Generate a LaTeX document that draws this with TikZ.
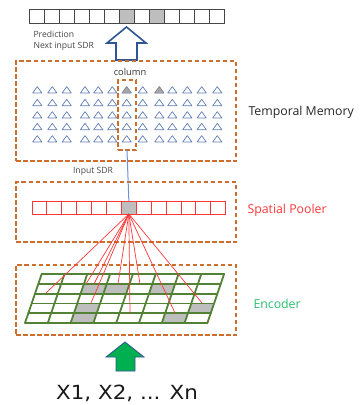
\documentclass[tikz,border=0pt]{standalone}
\usepackage{fontspec}
\setmainfont{Open Sans}
\newfontfamily\bigsans[FakeStretch=1.1]{DejaVu Sans}
\definecolor{stageorange}{RGB}{204,110,45}
\definecolor{cellgray}{RGB}{190,190,190}
\definecolor{cellline}{RGB}{70,70,70}
\definecolor{tri}{RGB}{95,125,185}
\definecolor{spred}{RGB}{255,55,55}
\definecolor{encgreen}{RGB}{84,130,53}
\definecolor{enctext}{RGB}{40,190,110}
\definecolor{wireblue}{RGB}{110,145,215}
\definecolor{arrowblue}{RGB}{47,85,151}
\definecolor{arrowgreen}{RGB}{0,176,80}
\definecolor{labelgray}{RGB}{70,70,70}
\tikzset{
  stagebox/.style={draw=stageorange, line width=1.6pt, dash pattern=on 4.5pt off 2.5pt,
    inner sep=0pt, outer sep=0pt},
  sdrcell/.style={draw=cellline, line width=1pt, minimum width=15pt, minimum height=14pt,
    inner sep=0pt, outer sep=0pt},
  spcell/.style={draw=spred, line width=0.9pt, minimum width=14.9pt, minimum height=13pt,
    inner sep=0pt, outer sep=0pt},
  tricell/.style={draw=tri, line width=0.7pt, line join=round},
  smalltext/.style={font=\fontsize{8.6}{10.5}\selectfont, text=labelgray},
  stagetext/.style={font=\fontsize{12.3}{14}\selectfont, anchor=west},
  redwire/.style={draw=spred, line width=0.7pt},
  gridline/.style={draw=encgreen, line width=1.8pt, line cap=round, line join=round},
}
% encoder grid point (column, row) in picture units
\newcommand{\gpt}[2]{({41.7+22.8*(#1)-3.34*(#2)},{274+9.8*(#2)})}
\begin{document}
\begin{tikzpicture}[x=1pt,y=-1pt]
\useasboundingbox (0,0) rectangle (360,405);

% output SDR row
\foreach \k/\cfill in {0/white,1/white,2/white,3/white,4/white,5/white,6/cellgray,
                       7/white,8/cellgray,9/white,10/white,11/white,12/white}
  \node[sdrcell, fill=\cfill] (out\k) at ({29+15*\k+7.5},16) {};

% hollow prediction arrow
\draw[arrowblue, line width=1.6pt, fill=white, line join=miter]
  (116,60) -- (116,43) -- (107,43) -- (126.5,27) -- (146,43) -- (137,43) -- (137,60) -- cycle;
\node[smalltext, anchor=west, align=left] (pred) at (30,41) {Prediction\\Next input SDR};

% temporal memory
\node[stagebox, minimum width=220pt, minimum height=100pt] (tm) at (126,111) {};
\node[font=\fontsize{9.3}{11}\selectfont, text=black!80] (collabel) at (130,72) {column};
\foreach \cx in {37.3,52.3,66.7,85,98.3,112.3,126.7,142.7,159.3,172.3,187.3,201.7,217.3}{
  \foreach \cy in {90,102.7,115,126.7,139}{
    \draw[tricell] ({\cx-4.6},{\cy+3}) -- (\cx,{\cy-3.4}) -- ({\cx+4.6},{\cy+3}) -- cycle;
  }
}
\foreach \cx in {126.7,159.3}
  \filldraw[fill=gray!70, draw=gray] ({\cx-4.6},93) -- (\cx,86.6) -- ({\cx+4.6},93) -- cycle;
\node[stagebox, minimum width=18pt, minimum height=70pt] (colbox) at (127,115) {};
\node[stagetext, text=black!85] (tmlabel) at (245,112) {Temporal Memory};

% spatial pooler
\node[smalltext] (inlabel) at (93,171) {Input SDR};
\node[stagebox, minimum width=220pt, minimum height=60pt] (sp) at (126,212) {};
\foreach \k/\cfill in {0/white,1/white,2/white,3/white,4/white,5/white,6/cellgray,
                       7/white,8/white,9/white,10/white,11/white,12/white}
  \node[spcell, fill=\cfill] (sp\k) at ({32+14.9*\k+7.45},207.5) {};
\draw[wireblue, line width=1pt] (colbox.south) -- (sp6.north);
\node[stagetext, text=spred] (splabel) at (244,210) {Spatial Pooler};

% encoder
\node[stagebox, minimum width=220pt, minimum height=70pt] (enc) at (126,300) {};
\foreach \ga/\gb in {2/1,3/1,5/1,2/3,7/3,2/4,6/4}
  \fill[cellgray] \gpt{\ga}{\gb} -- \gpt{\ga+1}{\gb} -- \gpt{\ga+1}{\gb+1} -- \gpt{\ga}{\gb+1} -- cycle;
\foreach \gb in {0,...,5} \draw[gridline] \gpt{0}{\gb} -- \gpt{8}{\gb};
\foreach \ga in {0,...,8} \draw[gridline] \gpt{\ga}{0} -- \gpt{\ga}{5};
\node[stagetext, text=enctext] (enclabel) at (250,304) {Encoder};

% receptive field of the active column
\coordinate (bit1) at (46,293);
\coordinate (bit2) at (86,284);
\coordinate (bit3) at (94,284);
\coordinate (bit4) at (91,303);
\coordinate (bit5) at (118,284);
\coordinate (bit6) at (130,313);
\coordinate (bit7) at (140,284);
\coordinate (bit8) at (175,313);
\coordinate (bit9) at (202,303);
\foreach \k in {1,...,9} \draw[redwire] (sp6.south) -- (bit\k);

% input arrow and sequence
\draw[arrowblue, line width=0.8pt, fill=arrowgreen, line join=miter]
  (116,371) -- (116,357) -- (106,357) -- (125,342) -- (144,357) -- (135,357) -- (135,371) -- cycle;
\node[anchor=base, font=\bigsans\fontsize{19.5}{22}\selectfont, text=black!90] (inputs) at (127,399) {X1, X2, ... Xn};
\end{tikzpicture}
\end{document}
